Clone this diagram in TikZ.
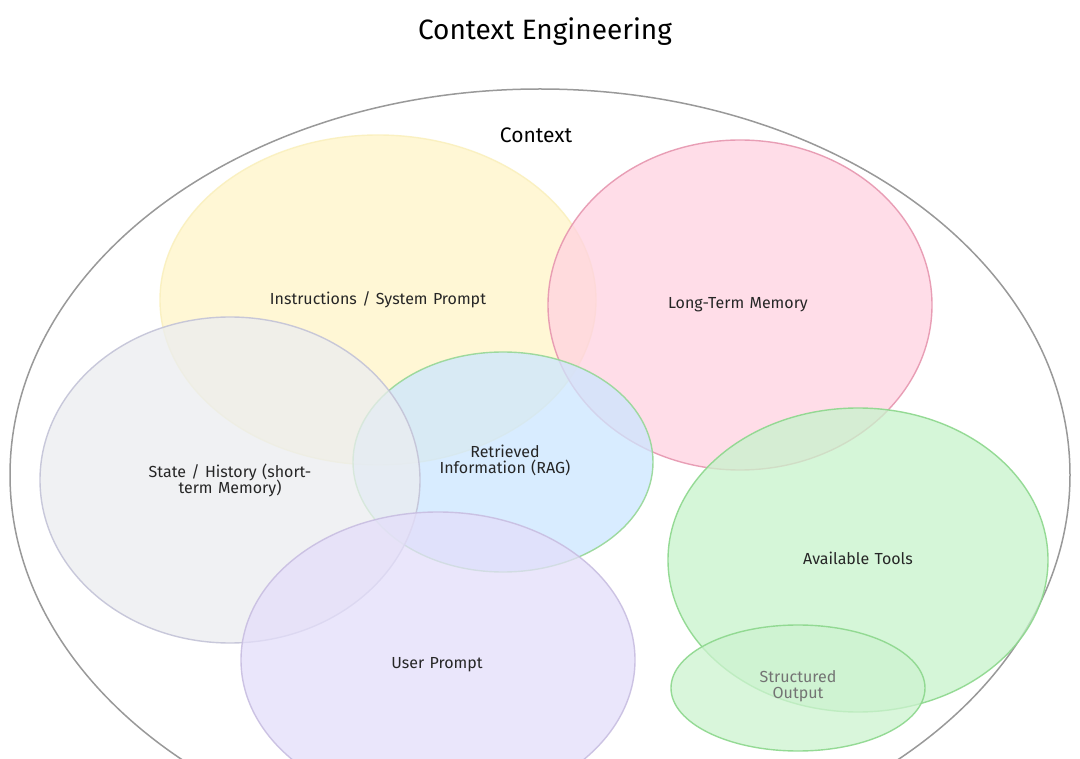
\documentclass[tikz,border=0pt]{standalone}
\usepackage{fontspec}
\setmainfont{Fira Sans}
\begin{document}
\begin{tikzpicture}[x=1pt,y=-1pt,
  blob/.style={fill opacity=0.75,draw opacity=0.9,line width=1.4pt},
  lbl/.style={font=\fontsize{16}{19}\selectfont,text=black!85,align=center,text width=260pt}]
\fill[white] (0,0) rectangle (1080,759);
\useasboundingbox (0,0) rectangle (1080,759);
\begin{scope}
\clip (0,0) rectangle (1080,759);
\draw[gray!80,line width=1.5pt] (540,475) ellipse [x radius=530,y radius=386];
\draw[blob,fill={rgb,255:red,255;green,245;blue,200},draw={rgb,255:red,250;green,240;blue,190}] (378,300) ellipse [x radius=218,y radius=165];
\draw[blob,fill={rgb,255:red,255;green,210;blue,225},draw={rgb,255:red,230;green,150;blue,175}] (740,305) ellipse [x radius=192,y radius=165];
\draw[blob,fill={rgb,255:red,204;green,230;blue,255},draw={rgb,255:red,150;green,215;blue,150}] (503,462) ellipse [x radius=150,y radius=110];
\draw[blob,fill={rgb,255:red,235;green,237;blue,240},draw={rgb,255:red,195;green,195;blue,215}] (230,480) ellipse [x radius=190,y radius=163];
\draw[blob,fill={rgb,255:red,228;green,222;blue,250},draw={rgb,255:red,200;green,190;blue,225}] (438,660) ellipse [x radius=197,y radius=148];
\draw[blob,fill={rgb,255:red,200;green,243;blue,204},draw={rgb,255:red,140;green,215;blue,140}] (858,560) ellipse [x radius=190,y radius=152];
\draw[blob,fill={rgb,255:red,205;green,243;blue,208},draw={rgb,255:red,140;green,215;blue,140}] (798,688) ellipse [x radius=127,y radius=63];
\end{scope}
\node (title) at (545,32) {\fontsize{28}{32}\selectfont Context Engineering};
\node (ctx) at (536,135) {\fontsize{21}{25}\selectfont Context};
\node[lbl] (ins) at (378,300) {Instructions / System Prompt};
\node[lbl] (ltm) at (738,305) {Long-Term Memory};
\node[lbl] (rag) at (505,460) {Retrieved\\[-3pt]Information (RAG)};
\node[lbl] (st) at (230,480) {State / History (short-\\[-3pt]term Memory)};
\node[lbl] (up) at (437,665) {User Prompt};
\node[lbl] (tools) at (858,558) {Available Tools};
\node[lbl,text=black!55] (so) at (798,686) {Structured\\[-3pt]Output};
\end{tikzpicture}
\end{document}
